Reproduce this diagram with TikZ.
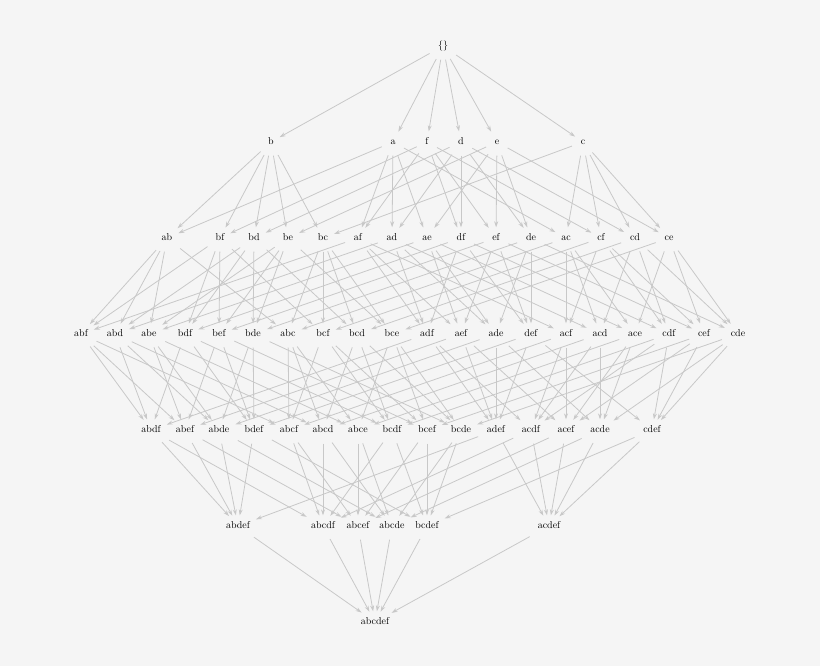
\documentclass[tikz,border=0pt]{standalone}
\usetikzlibrary{arrows.meta}
\definecolor{bg}{HTML}{F5F5F5}
\definecolor{edge}{HTML}{C8C8C8}
\begin{document}
\begin{tikzpicture}[x=1pt,y=-1pt,
  set/.style={inner sep=3pt,text height=7pt,text depth=2pt,font=\fontsize{10}{11}\selectfont},
  link/.style={draw=edge,line width=0.8pt,-{Stealth[length=6pt,width=4pt]},shorten >=3pt,shorten <=6pt}]
\fill[bg] (0,0) rectangle (820,666);
\useasboundingbox (0,0) rectangle (820,666);
\node[set] (e0) at (443,46) {\{\}};
\foreach \n/\x in {b/271,a/393,f/427,d/461,e/497,c/583} \node[set] (\n) at (\x,142) {\n};
\foreach \n/\x in {ab/167,bf/220,bd/254,be/288,bc/323,af/358,ad/392,ae/427,df/461,ef/496,de/531,ac/566,cf/601,cd/635,ce/669} \node[set] (\n) at (\x,238) {\n};
\foreach \n/\x in {abf/81,abd/115,abe/149,bdf/185,bef/219,bde/253,abc/288,bcf/323,bcd/357,bce/392,adf/427,aef/461,ade/496,def/531,acf/566,acd/600,ace/635,cdf/669,cef/704,cde/738} \node[set] (\n) at (\x,334) {\n};
\foreach \n/\x in {abdf/151,abef/185,abde/219,bdef/254,abcf/289,abcd/323,abce/358,bcdf/392,bcef/427,bcde/461,adef/496,acdf/531,acef/566,acde/600,cdef/652} \node[set] (\n) at (\x,430) {\n};
\foreach \n/\x in {abdef/238,abcdf/323,abcef/358,abcde/392,bcdef/427,acdef/549} \node[set] (\n) at (\x,526) {\n};
\node[set] (abcdef) at (375,622) {abcdef};
\foreach \t/\s in {b/{e0},a/{e0},f/{e0},d/{e0},e/{e0},c/{e0},
 ab/{a,b},bf/{b,f},bd/{b,d},be/{b,e},bc/{b,c},af/{a,f},ad/{a,d},ae/{a,e},df/{d,f},ef/{e,f},de/{d,e},ac/{a,c},cf/{c,f},cd/{c,d},ce/{c,e},
 abf/{ab,af,bf},abd/{ab,ad,bd},abe/{ab,ae,be},bdf/{bd,bf,df},bef/{be,bf,ef},bde/{bd,be,de},abc/{ab,ac,bc},bcf/{bc,bf,cf},bcd/{bc,bd,cd},bce/{bc,be,ce},adf/{ad,af,df},aef/{ae,af,ef},ade/{ad,ae,de},def/{de,df,ef},acf/{ac,af,cf},acd/{ac,ad,cd},ace/{ac,ae,ce},cdf/{cd,cf,df},cef/{ce,cf,ef},cde/{cd,ce,de},
 abdf/{bdf,adf,abf,abd},abef/{bef,aef,abf,abe},abde/{bde,ade,abe,abd},bdef/{def,bef,bdf,bde},abcf/{bcf,acf,abf,abc},abcd/{bcd,acd,abd,abc},abce/{bce,ace,abe,abc},bcdf/{cdf,bdf,bcf,bcd},bcef/{cef,bef,bcf,bce},bcde/{cde,bde,bce,bcd},adef/{def,aef,adf,ade},acdf/{cdf,adf,acf,acd},acef/{cef,aef,acf,ace},acde/{cde,ade,ace,acd},cdef/{def,cef,cdf,cde},
 abdef/{bdef,adef,abef,abdf,abde},abcdf/{bcdf,acdf,abdf,abcf,abcd},abcef/{bcef,acef,abef,abcf,abce},abcde/{bcde,acde,abde,abce,abcd},bcdef/{cdef,bdef,bcef,bcdf,bcde},acdef/{cdef,adef,acef,acdf,acde},
 abcdef/{abdef,abcdf,abcef,abcde,bcdef,acdef}}
 {\foreach \u in \s {\draw[link] (\u) -- (\t);}}
\end{tikzpicture}
\end{document}
